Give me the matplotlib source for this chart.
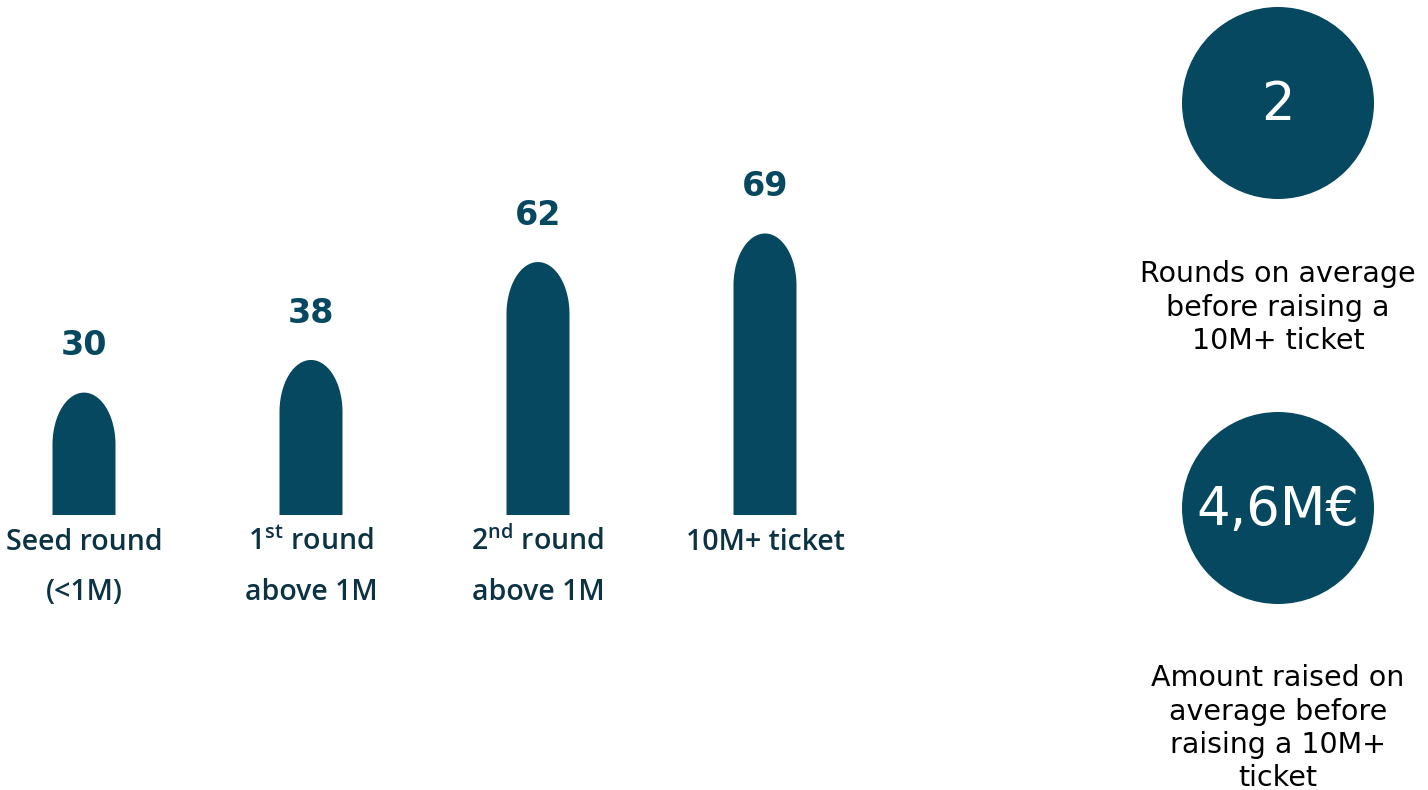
import matplotlib
matplotlib.use("Agg")
import numpy as np
import matplotlib.pyplot as plt
from matplotlib.patches import Circle, PathPatch
from matplotlib.path import Path

plt.rcParams['font.family'] = ['DejaVu Sans']

categories = ["Seed round", "1$^{\\mathregular{st}}$ round", "2$^{\\mathregular{nd}}$ round", "10M+ ticket"]
subcategories = ["(<1M)", "above 1M", "above 1M", ""]
values = [30, 38, 62, 69]

stat_values = ["2", "4,6M\u20ac"]
stat_texts = ["Rounds on average\nbefore raising a\n10M+ ticket",
              "Amount raised on\naverage before\nraising a 10M+\nticket"]

bar_color = "#05485f"
label_color = "#0b3344"


def dome_bar(x, h, w, cap):
    # rectangle with a half-ellipse on top
    t = np.linspace(np.pi, 0, 60)
    xs = [x - w / 2] + list(x + w / 2 * np.cos(t)) + [x + w / 2]
    ys = [0] + list(h - cap + cap * np.sin(t)) + [0]
    return PathPatch(Path(np.column_stack([xs, ys])), facecolor=bar_color,
                     edgecolor="none")


fig = plt.figure(figsize=(14.28, 7.9), dpi=100)

# bar area
ax = fig.add_axes([0, 1 - 515 / 790, 1000 / 1428, 515 / 790])
px = 4.08  # pixels per unit
ax.set_ylim(0, 515 / px)
ax.set_xlim(-84 / 227, (1000 - 84) / 227)
ax.axis("off")

width = 63 / 227
cap = 52 / px
for i, v in enumerate(values):
    ax.add_patch(dome_bar(i, v, width, cap))
    ax.text(i, v + 11.5, str(v), ha="center", va="center", fontsize=24,
            fontweight="bold", color=bar_color)
    ax.text(i, -27 / px, categories[i], ha="center", va="center", fontsize=20.5,
            family="Open Sans", fontweight="semibold", color=label_color,
            clip_on=False)
    ax.text(i, -77 / px, subcategories[i], ha="center", va="center", fontsize=20.5,
            family="Open Sans", fontweight="semibold", color=label_color,
            clip_on=False)

# stat circles on the right
ax2 = fig.add_axes([0, 0, 1, 1])
ax2.set_xlim(0, 1428)
ax2.set_ylim(790, 0)
ax2.axis("off")

circle_y = [103, 508]
text_y = [272, 676]
for cy, ty, sv, st in zip(circle_y, text_y, stat_values, stat_texts):
    ax2.add_patch(Circle((1278, cy), 96, color=bar_color, linewidth=0))
    ax2.text(1278, cy + 2, sv, ha="center", va="center", fontsize=38, color="white")
    ax2.text(1278, ty - 12, st, ha="center", va="top", fontsize=20.5,
             color="black", linespacing=1.25)

fig.savefig("out.png", dpi=100)
